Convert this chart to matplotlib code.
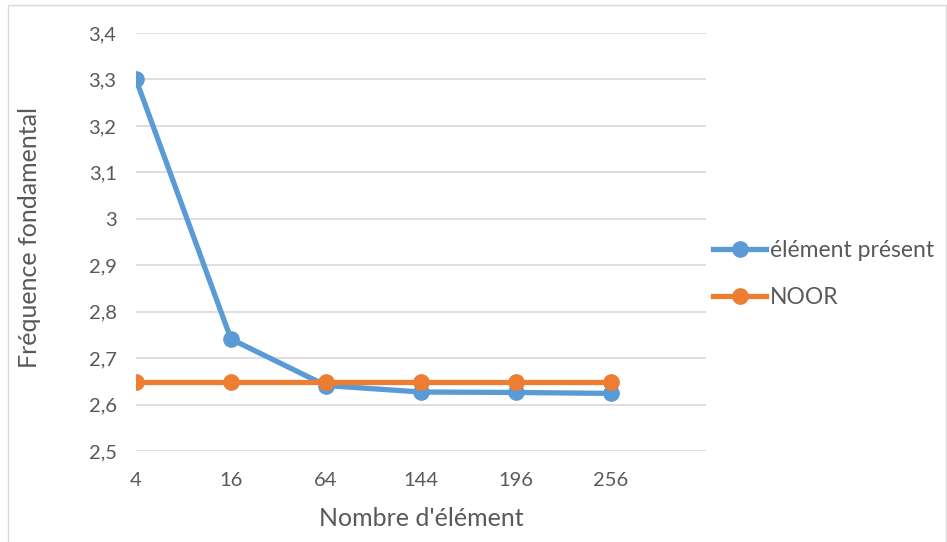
import numpy as np
import matplotlib
matplotlib.use("Agg")
import matplotlib.pyplot as plt
from matplotlib.patches import Rectangle

categories = ["4", "16", "64", "144", "196", "256"]
element_present = [3.30, 2.741, 2.641, 2.627, 2.626, 2.624]
noor = [2.648, 2.648, 2.648, 2.648, 2.648, 2.648]

plt.rcParams["font.family"] = ["Lato", "DejaVu Sans"]
txt = "#595959"

fig = plt.figure(figsize=(9.47, 5.42), dpi=100)
ax = fig.add_axes([136 / 947, 1 - 451 / 542, 570 / 947, 418 / 542])

x = np.arange(len(categories))
ax.plot(x, element_present, color="#5B9BD5", lw=3.8, marker="o", ms=11,
        label="élément présent", zorder=3)
ax.plot(x, noor, color="#ED7D31", lw=3.8, marker="o", ms=11,
        label="NOOR", zorder=4)

ax.set_xlim(0, 6)
ax.set_ylim(2.5, 3.4)
yt = np.arange(2.5, 3.41, 0.1)
ax.set_yticks(yt)
ax.set_yticklabels([f"{v:.1f}".replace(".", ",").replace(",0", "") for v in yt])
ax.set_xticks(x)
ax.set_xticklabels(categories)
ax.grid(axis="y", color="#D9D9D9", lw=1.2)
ax.set_axisbelow(True)
for s in ax.spines.values():
    s.set_visible(False)
ax.tick_params(axis="both", length=0, labelsize=14.5, colors=txt)
ax.tick_params(axis="y", pad=14)
ax.tick_params(axis="x", pad=15)

ax.set_xlabel("Nombre d'élément", fontsize=18, color=txt)
ax.xaxis.set_label_coords(421 / 947, 1 - 507 / 542, transform=fig.transFigure)
ax.set_ylabel("Fréquence fondamental", fontsize=18, color=txt)
ax.yaxis.set_label_coords(41 / 947, 1 - 238 / 542, transform=fig.transFigure)

leg = ax.legend(loc="center left", bbox_to_anchor=(702 / 947, 1 - 274 / 542),
                bbox_transform=fig.transFigure, frameon=False,
                fontsize=16.5, labelcolor=txt, handlelength=2.3, handletextpad=0.15,
                labelspacing=1.15, borderpad=0)

fig.patches.append(Rectangle((8 / 947, -0.01), 938 / 947, 1 - 5 / 542 + 0.01,
                             transform=fig.transFigure, fill=False,
                             edgecolor="#D9D9D9", lw=1))

fig.savefig("out.png", dpi=100)
